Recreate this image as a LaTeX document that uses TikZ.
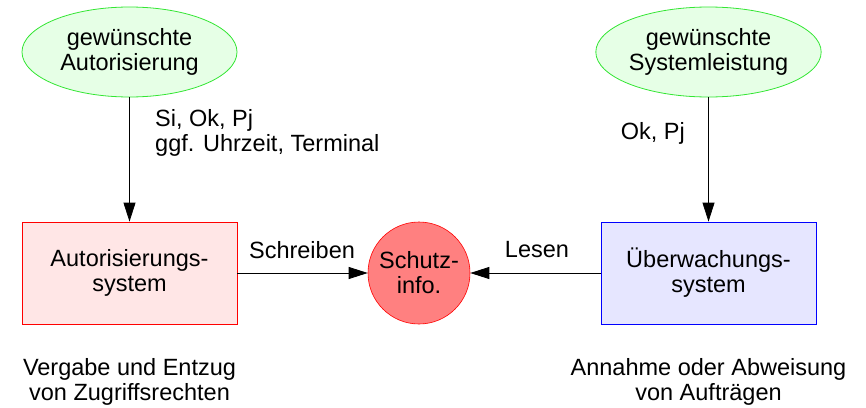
\documentclass[tikz,border=0pt]{standalone}
\usepackage{fontspec}
\setmainfont{Liberation Sans}
\usetikzlibrary{shapes.geometric,arrows.meta}
\definecolor{egreen}{HTML}{33E633}
\definecolor{efill}{HTML}{E6FFE6}
\definecolor{rfill}{HTML}{FFE6E6}
\definecolor{bfill}{HTML}{E6E6FF}
\definecolor{cfill}{HTML}{FF8080}
\begin{document}
\begin{tikzpicture}[x=1pt,y=-1pt,
  txt/.style={font=\fontsize{23.5}{25}\selectfont, align=center, inner sep=0pt},
  goal/.style={txt, ellipse, draw=egreen, fill=efill, line width=0.8pt, minimum width=215pt, minimum height=90pt},
  sysbox/.style={txt, rectangle, line width=0.8pt, minimum width=215pt, minimum height=102pt},
  infocirc/.style={txt, circle, draw=red, fill=cfill, line width=0.6pt, minimum size=102pt},
  lbl/.style={txt},
  flow/.style={-{Triangle[length=19pt,width=12pt]}, line width=0.8pt}]
\useasboundingbox (0,0) rectangle (866,407);
\node[goal] (g1) at (129.5,52) {gewünschte\\Autorisierung};
\node[goal] (g2) at (708.5,52) {gewünschte\\Systemleistung};
\node[sysbox, draw=red, fill=rfill] (a) at (129.5,273) {Autorisierungs-\\system};
\node[sysbox, draw=blue, fill=bfill] (u) at (708.5,273) {Überwachungs-\\system};
\node[infocirc] (s) at (419,273) {Schutz-\\info.};
\draw[flow] (g1) -- (a);
\draw[flow] (g2) -- (u);
\draw[flow] (a) -- (s);
\draw[flow] (u) -- (s);
\node[lbl, align=left, anchor=west] (l1) at (155,133) {Si, Ok, Pj\\ggf. Uhrzeit, Terminal};
\node[lbl, anchor=east] (l2) at (685,133) {Ok, Pj};
\node[lbl] (l3) at (302,250) {Schreiben};
\node[lbl] (l4) at (537,250) {Lesen};
\node[lbl] (b1) at (129.5,382) {Vergabe und Entzug\\von Zugriffsrechten};
\node[lbl] (b2) at (708.5,382) {Annahme oder Abweisung\\von Aufträgen};
\end{tikzpicture}
\end{document}
